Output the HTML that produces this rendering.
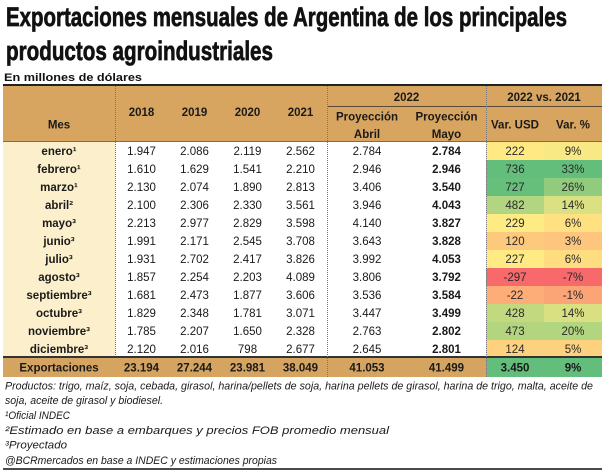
<!DOCTYPE html>
<html><head><meta charset="utf-8"><style>
html,body{margin:0;padding:0;background:#fff;}
svg{display:block;}
text{font-family:"Liberation Sans",Arial,sans-serif;}
</style></head><body>
<svg width="608" height="474" viewBox="0 0 608 474" xmlns="http://www.w3.org/2000/svg">
<rect width="608" height="474" fill="#fff"/>
<!-- Title -->
<g fill="#111" stroke="#111" stroke-width="0.7" font-weight="bold" font-size="27">
<text x="6" y="26" textLength="561" lengthAdjust="spacingAndGlyphs">Exportaciones mensuales de Argentina de los principales</text>
<text x="6" y="60" textLength="267" lengthAdjust="spacingAndGlyphs">productos agroindustriales</text>
</g>
<text x="4" y="81" font-size="11" font-weight="bold" fill="#111" textLength="138" lengthAdjust="spacingAndGlyphs">En millones de dólares</text>

<!-- backgrounds -->
<rect x="3" y="86" width="599" height="56" fill="#D8A561"/>
<rect x="3" y="142" width="112" height="216" fill="#FCEFCB"/>
<rect x="3" y="358" width="599" height="19" fill="#D6A461"/>

<!-- var cells -->
<g>
<rect x="486" y="142" width="58" height="18" fill="#FFE983"/><rect x="544" y="142" width="58" height="18" fill="#F8E984"/>
<rect x="486" y="160" width="58" height="18" fill="#63BE7B"/><rect x="544" y="160" width="58" height="18" fill="#63BE7B"/>
<rect x="486" y="178" width="58" height="18" fill="#66BF7B"/><rect x="544" y="178" width="58" height="18" fill="#90CB7E"/>
<rect x="486" y="196" width="58" height="18" fill="#B1D580"/><rect x="544" y="196" width="58" height="18" fill="#DBE182"/>
<rect x="486" y="214" width="58" height="18" fill="#FFEB84"/><rect x="544" y="214" width="58" height="18" fill="#FFE182"/>
<rect x="486" y="232" width="58" height="18" fill="#FDC97D"/><rect x="544" y="232" width="58" height="18" fill="#FDC57D"/>
<rect x="486" y="250" width="58" height="18" fill="#FFEA84"/><rect x="544" y="250" width="58" height="18" fill="#FEDD81"/>
<rect x="486" y="268" width="58" height="18" fill="#F8696B"/><rect x="544" y="268" width="58" height="18" fill="#F8696B"/>
<rect x="486" y="286" width="58" height="18" fill="#FCAD78"/><rect x="544" y="286" width="58" height="18" fill="#FBA476"/>
<rect x="486" y="304" width="58" height="18" fill="#C2D980"/><rect x="544" y="304" width="58" height="18" fill="#D9E082"/>
<rect x="486" y="322" width="58" height="18" fill="#B4D580"/><rect x="544" y="322" width="58" height="18" fill="#B2D580"/>
<rect x="486" y="340" width="58" height="18" fill="#FED17F"/><rect x="544" y="340" width="58" height="18" fill="#FED17F"/>
<rect x="486" y="358" width="116" height="19" fill="#63BE7B"/>
</g>

<!-- lines -->
<line x1="3" y1="85" x2="602" y2="85" stroke="#222" stroke-width="2"/>
<line x1="327" y1="106.5" x2="602" y2="106.5" stroke="#5a4a35" stroke-width="1"/>
<line x1="3" y1="141.5" x2="602" y2="141.5" stroke="#8a6a3a" stroke-width="1"/>
<line x1="3" y1="357" x2="602" y2="357" stroke="#333" stroke-width="2"/>
<g stroke="#777" stroke-width="1" stroke-dasharray="1,1">
<line x1="115.5" y1="86" x2="115.5" y2="356"/>
<line x1="327.5" y1="86" x2="327.5" y2="377"/>
<line x1="486.5" y1="86" x2="486.5" y2="377"/>
</g>
<line x1="3" y1="469" x2="602" y2="469" stroke="#111" stroke-width="1.5"/>

<!-- header text -->
<g font-size="11.5" font-weight="bold" fill="#1a1a1a" text-anchor="middle">
<text x="59" y="128.5">Mes</text>
<text x="141.5" y="116">2018</text>
<text x="194.5" y="116">2019</text>
<text x="247.5" y="116">2020</text>
<text x="300.5" y="116">2021</text>
<text x="406.5" y="101">2022</text>
<text x="544" y="101">2022 vs. 2021</text>
<text x="367" y="120.5">Proyección</text>
<text x="367" y="138">Abril</text>
<text x="446.5" y="120.5">Proyección</text>
<text x="446.5" y="138">Mayo</text>
<text x="515" y="128.5">Var. USD</text>
<text x="573" y="128.5">Var. %</text>
</g>

<!-- body -->
<g font-size="11.5" fill="#1a1a1a" text-anchor="middle">
<g font-weight="bold">
<text x="59" y="155">enero¹</text>
<text x="59" y="173">febrero¹</text>
<text x="59" y="191">marzo¹</text>
<text x="59" y="209">abril²</text>
<text x="59" y="227">mayo³</text>
<text x="59" y="245">junio³</text>
<text x="59" y="263">julio³</text>
<text x="59" y="281">agosto³</text>
<text x="59" y="299">septiembre³</text>
<text x="59" y="317">octubre³</text>
<text x="59" y="335">noviembre³</text>
<text x="59" y="353">diciembre³</text>
</g>
<g>
<text x="141.5" y="155">1.947</text><text x="194.5" y="155">2.086</text><text x="247.5" y="155">2.119</text><text x="300.5" y="155">2.562</text><text x="367" y="155">2.784</text>
<text x="141.5" y="173">1.610</text><text x="194.5" y="173">1.629</text><text x="247.5" y="173">1.541</text><text x="300.5" y="173">2.210</text><text x="367" y="173">2.946</text>
<text x="141.5" y="191">2.130</text><text x="194.5" y="191">2.074</text><text x="247.5" y="191">1.890</text><text x="300.5" y="191">2.813</text><text x="367" y="191">3.406</text>
<text x="141.5" y="209">2.100</text><text x="194.5" y="209">2.306</text><text x="247.5" y="209">2.330</text><text x="300.5" y="209">3.561</text><text x="367" y="209">3.946</text>
<text x="141.5" y="227">2.213</text><text x="194.5" y="227">2.977</text><text x="247.5" y="227">2.829</text><text x="300.5" y="227">3.598</text><text x="367" y="227">4.140</text>
<text x="141.5" y="245">1.991</text><text x="194.5" y="245">2.171</text><text x="247.5" y="245">2.545</text><text x="300.5" y="245">3.708</text><text x="367" y="245">3.643</text>
<text x="141.5" y="263">1.931</text><text x="194.5" y="263">2.702</text><text x="247.5" y="263">2.417</text><text x="300.5" y="263">3.826</text><text x="367" y="263">3.992</text>
<text x="141.5" y="281">1.857</text><text x="194.5" y="281">2.254</text><text x="247.5" y="281">2.203</text><text x="300.5" y="281">4.089</text><text x="367" y="281">3.806</text>
<text x="141.5" y="299">1.681</text><text x="194.5" y="299">2.473</text><text x="247.5" y="299">1.877</text><text x="300.5" y="299">3.606</text><text x="367" y="299">3.536</text>
<text x="141.5" y="317">1.829</text><text x="194.5" y="317">2.348</text><text x="247.5" y="317">1.781</text><text x="300.5" y="317">3.071</text><text x="367" y="317">3.447</text>
<text x="141.5" y="335">1.785</text><text x="194.5" y="335">2.207</text><text x="247.5" y="335">1.650</text><text x="300.5" y="335">2.328</text><text x="367" y="335">2.763</text>
<text x="141.5" y="353">2.120</text><text x="194.5" y="353">2.016</text><text x="247.5" y="353">798</text><text x="300.5" y="353">2.677</text><text x="367" y="353">2.645</text>
</g>
<g font-weight="bold">
<text x="446.5" y="155">2.784</text>
<text x="446.5" y="173">2.946</text>
<text x="446.5" y="191">3.540</text>
<text x="446.5" y="209">4.043</text>
<text x="446.5" y="227">3.827</text>
<text x="446.5" y="245">3.828</text>
<text x="446.5" y="263">4.053</text>
<text x="446.5" y="281">3.792</text>
<text x="446.5" y="299">3.584</text>
<text x="446.5" y="317">3.499</text>
<text x="446.5" y="335">2.802</text>
<text x="446.5" y="353">2.801</text>
</g>
<g fill="#2a2a2a">
<text x="515" y="155">222</text><text x="573" y="155">9%</text>
<text x="515" y="173">736</text><text x="573" y="173">33%</text>
<text x="515" y="191">727</text><text x="573" y="191">26%</text>
<text x="515" y="209">482</text><text x="573" y="209">14%</text>
<text x="515" y="227">229</text><text x="573" y="227">6%</text>
<text x="515" y="245">120</text><text x="573" y="245">3%</text>
<text x="515" y="263">227</text><text x="573" y="263">6%</text>
<text x="515" y="281">-297</text><text x="573" y="281">-7%</text>
<text x="515" y="299">-22</text><text x="573" y="299">-1%</text>
<text x="515" y="317">428</text><text x="573" y="317">14%</text>
<text x="515" y="335">473</text><text x="573" y="335">20%</text>
<text x="515" y="353">124</text><text x="573" y="353">5%</text>
</g>
<g font-weight="bold">
<text x="59" y="371.5">Exportaciones</text>
<text x="141.5" y="371.5">23.194</text>
<text x="194.5" y="371.5">27.244</text>
<text x="247.5" y="371.5">23.981</text>
<text x="300.5" y="371.5">38.049</text>
<text x="367" y="371.5">41.053</text>
<text x="446.5" y="371.5">41.499</text>
<text x="515" y="371.5">3.450</text>
<text x="573" y="371.5">9%</text>
</g>
</g>

<!-- footer -->
<g font-size="11" font-style="italic" fill="#1a1a1a">
<text x="5" y="389.5" textLength="588" lengthAdjust="spacingAndGlyphs">Productos: trigo, maíz, soja, cebada, girasol, harina/pellets de soja, harina pellets de girasol, harina de trigo, malta, aceite de</text>
<text x="5" y="404" textLength="158" lengthAdjust="spacingAndGlyphs">soja, aceite de girasol y biodiesel.</text>
<text x="5" y="419" textLength="65" lengthAdjust="spacingAndGlyphs">¹Oficial INDEC</text>
<text x="5" y="434" textLength="384" lengthAdjust="spacingAndGlyphs">²Estimado en base a embarques y precios FOB promedio mensual</text>
<text x="5" y="448.5" textLength="62" lengthAdjust="spacingAndGlyphs">³Proyectado</text>
<text x="5" y="464" textLength="272" lengthAdjust="spacingAndGlyphs">@BCRmercados en base a INDEC y estimaciones propias</text>
</g>
</svg>
</body></html>
